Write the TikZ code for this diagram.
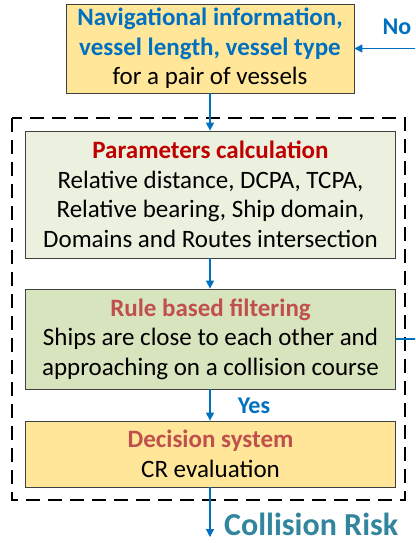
\documentclass[tikz,border=0pt]{standalone}
\usepackage{fontspec}
\setmainfont{Carlito}
\usetikzlibrary{arrows.meta}
\definecolor{yelfill}{HTML}{FFE699}
\definecolor{grnA}{HTML}{EBF1DE}
\definecolor{grnB}{HTML}{D7E4BD}
\definecolor{darkred}{HTML}{C00000}
\definecolor{redB}{HTML}{C0504D}
\definecolor{blueA}{HTML}{0070C0}
\definecolor{tealA}{HTML}{31859C}
\definecolor{edgeG}{HTML}{404040}
\begin{document}
\begin{tikzpicture}[x=1pt,y=-1pt,
  box/.style={draw=edgeG,line width=0.8pt,rectangle,align=center,inner sep=0pt,
    font=\fontsize{25}{29.5}\selectfont},
  flow/.style={draw=blueA,line width=1.3pt,-{Triangle[length=8pt,width=8pt]}},
  lbl/.style={text=blueA,font=\fontsize{24}{26}\selectfont\bfseries,inner sep=0pt}]
\useasboundingbox (0,0) rectangle (415,543);
\clip (0,0) rectangle (415,543);
\fill[white] (0,0) rectangle (415,543);
\draw[line width=2.4pt,dash pattern=on 14pt off 8pt] (12,118) rectangle (405,500);
\node[box,fill=yelfill,minimum width=288pt,minimum height=89pt] (top) at (210,48.5)
  {\textcolor{blueA}{\bfseries Navigational information,}\\
   \textcolor{blueA}{\bfseries vessel length, vessel type}\\
   for a pair of vessels};
\node[box,fill=grnA,minimum width=370pt,minimum height=127pt] (par) at (210.5,194.5)
  {\textcolor{darkred}{\bfseries Parameters calculation}\\
   Relative distance, DCPA, TCPA,\\
   Relative bearing, Ship domain,\\
   Domains and Routes intersection};
\node[box,fill=grnB,minimum width=370pt,minimum height=100pt] (rule) at (210.5,339)
  {\textcolor{redB}{\bfseries Rule based filtering}\\
   Ships are close to each other and\\
   approaching on a collision course};
\node[box,fill=yelfill,minimum width=370pt,minimum height=66pt] (dec) at (210.5,454)
  {\textcolor{redB}{\bfseries Decision system}\\
   CR evaluation};
\coordinate (out) at (210,537);
\coordinate (r1) at (425,339);
\coordinate (r2) at (425,48.5);
\draw[flow] (top.south -| 210,0) -- (par.north -| 210,0);
\draw[flow] (par.south -| 210,0) -- (rule.north -| 210,0);
\draw[flow] (rule.south -| 210,0) -- (dec.north -| 210,0);
\node[lbl] (yes) at (254,406) {Yes};
\draw[flow] (dec.south -| 210,0) -- (out);
\node[anchor=west,text=tealA,font=\fontsize{32}{34}\selectfont\bfseries,inner sep=0pt] (cr) at (224,524) {Collision Risk};
\draw[flow] (rule.east) -- (r1) -- (r2) -- (top.east);
\node[lbl] (no) at (397,27) {No};
\end{tikzpicture}
\end{document}
